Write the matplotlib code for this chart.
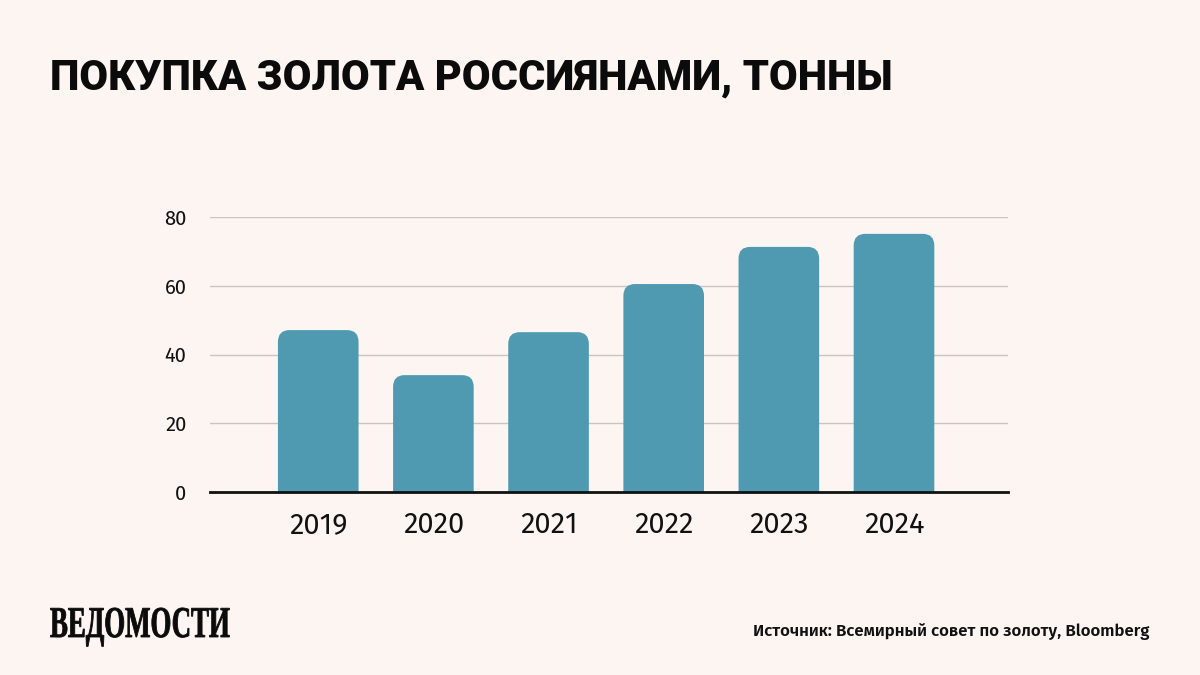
import matplotlib.pyplot as plt
from matplotlib.patches import FancyBboxPatch, PathPatch
from matplotlib.textpath import TextPath
from matplotlib.font_manager import FontProperties
from matplotlib.transforms import Affine2D

years = ["2019", "2020", "2021", "2022", "2023", "2024"]
tonnes = [47.1, 34.0, 46.5, 60.5, 71.3, 75.1]
yticks = [0, 20, 40, 60, 80]

bg = "#fcf5f2"
bar_color = "#4f9ab0"

fig = plt.figure(figsize=(12, 6.75), dpi=100, facecolor=bg)
ax = fig.add_axes([0.175, 0.2711, 0.665, 0.4074], facecolor=bg)

x = list(range(len(years)))
bars = ax.bar(x, tonnes, width=0.7, color="none", zorder=3)

# rounded tops: rounded box that starts below zero, clipped by the axes
r_x = 0.1
r_y = 3.4
for b in bars:
    x0, w, h = b.get_x(), b.get_width(), b.get_height()
    rb = FancyBboxPatch((x0, -3 * r_y), w, h + 3 * r_y,
                        boxstyle=f"round,pad=0,rounding_size={r_x}",
                        mutation_aspect=r_y / r_x,
                        fc=bar_color, ec="none", zorder=3)
    ax.add_patch(rb)

ax.set_xlim(-0.94, 5.99)
ax.set_ylim(0, 80)
ax.set_yticks(yticks)
ax.set_yticklabels([str(v) for v in yticks])
ax.set_xticks(x)
ax.set_xticklabels(years)
ax.tick_params(axis="both", length=0)
ax.tick_params(axis="y", pad=17)
ax.tick_params(axis="x", pad=13)
for t in ax.get_yticklabels():
    t.set_family(["Fira Sans", "Noto Sans", "DejaVu Sans"])
    t.set_fontsize(14.5)
    t.set_color("#111111")
for t in ax.get_xticklabels():
    t.set_family(["Fira Sans", "Noto Sans", "DejaVu Sans"])
    t.set_fontsize(21)
    t.set_color("#111111")

ax.grid(axis="y", color="#c9c5c3", linewidth=1, zorder=1)
ax.set_axisbelow(True)
for s in ["top", "right", "left"]:
    ax.spines[s].set_visible(False)
ax.spines["bottom"].set_color("#111111")
ax.spines["bottom"].set_linewidth(2)
ax.spines["bottom"].set_zorder(4)

fig.text(0.042, 0.885, "ПОКУПКА ЗОЛОТА РОССИЯНАМИ, ТОННЫ", fontsize=30,
         fontweight="black", family=["Roboto", "DejaVu Sans"], color="#0b0b0b",
         va="center", ha="left")

# logo: condensed bold serif
logo = TextPath((0, 0), "ВЕДОМОСТИ", size=44,
                prop=FontProperties(family=["Liberation Serif", "DejaVu Serif"], weight="bold"))
logo_tr = Affine2D().scale(0.61, 1.0).translate(50, 675 - 637)
fig.add_artist(PathPatch(logo, transform=logo_tr, fc="#0b0b0b", ec="#0b0b0b", lw=0.6))

fig.text(0.958, 0.064, "Источник: Всемирный совет по золоту, Bloomberg",
         fontsize=12.1, fontweight="semibold", family=["Fira Sans", "Noto Sans", "DejaVu Sans"],
         color="#111111", va="center", ha="right")

fig.savefig("out.png", dpi=100, facecolor=bg)
